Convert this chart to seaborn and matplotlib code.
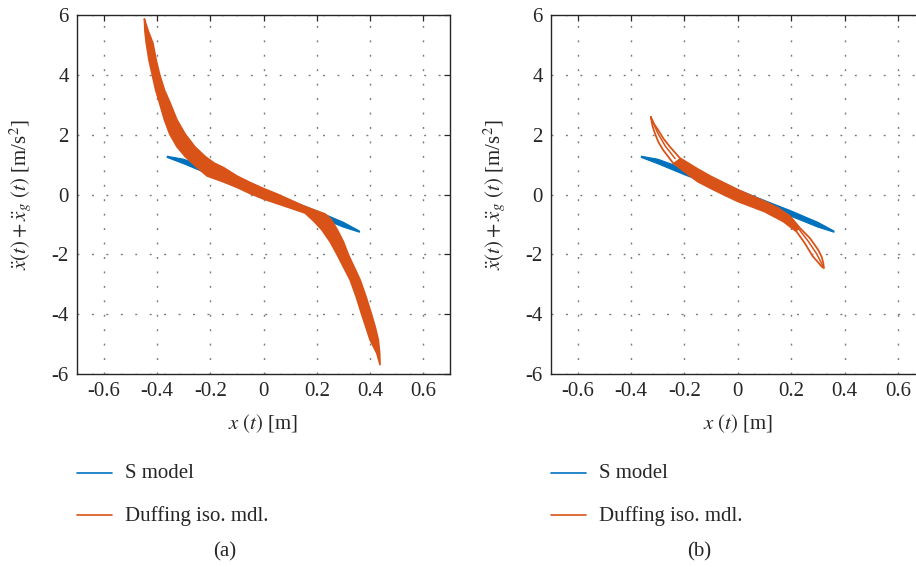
import numpy as np
import pandas as pd
import matplotlib
matplotlib.use("Agg")
import matplotlib.pyplot as plt
from matplotlib.lines import Line2D
import seaborn as sns

# ---------------- data ----------------
xticks = [-0.6, -0.4, -0.2, 0.0, 0.2, 0.4, 0.6]
xtick_labels = ["-0.6", "-0.4", "-0.2", "0", "0.2", "0.4", "0.6"]
yticks = [-6, -4, -2, 0, 2, 4, 6]
ytick_labels = ["-6", "-4", "-2", "0", "2", "4", "6"]

series_names = ["S model", "Duffing iso. mdl."]
panel_captions = ["(a)", "(b)"]

# S model loop (same in both panels): upper edge then lower edge
s_up_x = [-0.362, -0.30, -0.20, -0.10, 0.00, 0.10, 0.20, 0.30, 0.360]
s_up_y = [1.28, 1.18, 0.86, 0.52, 0.16, -0.20, -0.55, -0.93, -1.22]
s_lo_x = [0.360, 0.30, 0.20, 0.10, 0.00, -0.10, -0.20, -0.30, -0.362]
s_lo_y = [-1.26, -1.09, -0.73, -0.38, -0.04, 0.32, 0.66, 1.03, 1.24]

# Duffing model, panel (a): upper/right edge then lower/left edge of the band
da_up_x = [-0.447, -0.432, -0.415, -0.403, -0.390, -0.372, -0.350, -0.325, -0.294,
           -0.258, -0.219, -0.185, -0.150, -0.100, -0.050, 0.000, 0.050, 0.100,
           0.150, 0.200, 0.231, 0.255, 0.277, 0.300, 0.319, 0.340, 0.3625, 0.385,
           0.406, 0.420, 0.431, 0.436, 0.4375]
da_up_y = [5.86, 5.45, 5.06, 4.50, 4.02, 3.50, 3.05, 2.50, 2.02, 1.60, 1.27, 1.05,
           0.90, 0.62, 0.40, 0.20, 0.02, -0.18, -0.38, -0.55, -0.65, -0.85, -1.18,
           -1.58, -2.02, -2.42, -2.85, -3.42, -4.02, -4.45, -4.86, -5.30, -5.69]
da_lo_x = [0.4375, 0.425, 0.400, 0.385, 0.369, 0.348, 0.325, 0.300, 0.277, 0.250,
           0.219, 0.190, 0.156, 0.100, 0.050, 0.000, -0.050, -0.100, -0.150,
           -0.212, -0.255, -0.294, -0.325, -0.352, -0.372, -0.390, -0.405, -0.418,
           -0.430, -0.440, -0.445, -0.447]
da_lo_y = [-5.69, -5.30, -4.86, -4.45, -4.02, -3.42, -2.85, -2.42, -2.02, -1.58,
           -1.18, -0.90, -0.62, -0.45, -0.30, -0.15, 0.03, 0.24, 0.42, 0.62, 0.95,
           1.27, 1.60, 2.02, 2.50, 3.05, 3.50, 4.02, 4.50, 5.06, 5.45, 5.86]

# Duffing model, panel (b): outer loop
db_up_x = [-0.326, -0.314, -0.299, -0.278, -0.255, -0.2175, -0.150, -0.100, -0.050,
           0.000, 0.050, 0.100, 0.150, 0.195, 0.2325, 0.270, 0.301, 0.314, 0.320,
           0.3225]
db_up_y = [2.59, 2.36, 2.16, 1.86, 1.60, 1.22, 0.85, 0.60, 0.38, 0.16, -0.04,
           -0.23, -0.45, -0.72, -1.12, -1.46, -1.85, -2.08, -2.29, -2.46]
db_lo_x = [0.3225, 0.314, 0.299, 0.281, 0.251, 0.220, 0.170, 0.100, 0.050, 0.000,
           -0.050, -0.100, -0.150, -0.2425, -0.280, -0.298, -0.311, -0.320, -0.326]
db_lo_y = [-2.46, -2.41, -2.25, -2.07, -1.63, -1.24, -0.90, -0.57, -0.40, -0.23,
           -0.02, 0.20, 0.43, 1.05, 1.49, 1.76, 2.05, 2.30, 2.59]
# inner traces inside the two lenses of panel (b)
db_in_top_x = [-0.322, -0.300, -0.272, -0.235]
db_in_top_y = [2.50, 2.05, 1.62, 1.20]
db_in_bot_x = [0.318, 0.295, 0.265, 0.228]
db_in_bot_y = [-2.38, -1.98, -1.58, -1.15]

# ---------------- style ----------------
BLUE = "#0072BD"
ORANGE = "#D95319"
INK = "#262626"
FS = 15

sns.set_theme(style="white")
plt.rcParams.update({
    "font.family": ["Liberation Serif", "DejaVu Serif"],
    "mathtext.fontset": "stix",
    "axes.unicode_minus": False,
    "font.size": FS,
})

W, H = 916, 567
fig = plt.figure(figsize=(W / 100, H / 100), dpi=100)
fig.patch.set_facecolor("white")


def px_axes(left, right, top, bottom):
    return fig.add_axes([left / W, 1 - bottom / H, (right - left) / W, (bottom - top) / H])


def loop_df(ux, uy, lx, ly):
    return pd.DataFrame({"x": list(ux) + list(lx), "y": list(uy) + list(ly)})


def style_axes(ax):
    ax.set_xlim(-0.7, 0.7)
    ax.set_ylim(-6, 6)
    ax.set_xticks(xticks)
    ax.set_xticklabels(xtick_labels)
    ax.set_yticks(yticks)
    ax.set_yticklabels(ytick_labels)
    ax.grid(True, color="#7a7a7a", linestyle=(0, (1.4, 9.0)), linewidth=1.0)
    ax.set_axisbelow(True)
    ax.tick_params(direction="in", top=True, right=True, length=4, width=0.9,
                   color=INK, labelsize=FS, pad=6, labelcolor=INK)
    for sp in ax.spines.values():
        sp.set_color(INK)
        sp.set_linewidth(1.0)
    ax.set_xlabel(r"$x\ (t)$ [m]", fontsize=FS, color=INK)
    ax.set_ylabel(r"$\ddot{x}(t) + \ddot{x}_g\ (t)$ [m/s$^2$]", fontsize=FS, color=INK)
    ax.xaxis.label.set_va("center")
    ax.yaxis.label.set_va("center")
    ax.xaxis.set_label_coords(0.5, -0.137)
    ax.yaxis.set_label_coords(-0.150, 0.5)


def draw_s(ax):
    df = loop_df(s_up_x, s_up_y, s_lo_x, s_lo_y)
    ax.fill(df["x"], df["y"], color=BLUE, lw=0, zorder=2)
    sns.lineplot(data=df, x="x", y="y", sort=False, estimator=None, ax=ax,
                 color=BLUE, lw=0.8, zorder=2, solid_joinstyle="round")


axA = px_axes(77, 450, 15, 374)
axB = px_axes(551, 924.7, 15, 374)

# panel (a)
draw_s(axA)
dfa = loop_df(da_up_x, da_up_y, da_lo_x, da_lo_y)
axA.fill(dfa["x"], dfa["y"], color=ORANGE, lw=0, zorder=3)
sns.lineplot(data=dfa, x="x", y="y", sort=False, estimator=None, ax=axA,
             color=ORANGE, lw=1.2, zorder=3, solid_joinstyle="round")

# panel (b)
draw_s(axB)
dfb = loop_df(db_up_x, db_up_y, db_lo_x, db_lo_y)
up_m = [(-0.2175 <= x <= 0.2325) for x in db_up_x]
lo_m = [(-0.2425 <= x <= 0.220) for x in db_lo_x]
core_x = [x for x, m in zip(db_up_x, up_m) if m] + [x for x, m in zip(db_lo_x, lo_m) if m]
core_y = [y for y, m in zip(db_up_y, up_m) if m] + [y for y, m in zip(db_lo_y, lo_m) if m]
axB.fill(core_x, core_y, color=ORANGE, lw=0, zorder=3)
sns.lineplot(data=dfb, x="x", y="y", sort=False, estimator=None, ax=axB,
             color=ORANGE, lw=1.3, zorder=3, solid_joinstyle="round")
for xs, ys in [(db_in_top_x, db_in_top_y), (db_in_bot_x, db_in_bot_y)]:
    sns.lineplot(x=xs, y=ys, sort=False, estimator=None, ax=axB,
                 color=ORANGE, lw=1.1, zorder=3, solid_joinstyle="round")

for ax in (axA, axB):
    style_axes(ax)
    if ax.get_legend() is not None:
        ax.get_legend().remove()

# legends and captions below each panel
for x0, cap_x, cap in [(77, 225, panel_captions[0]), (551, 699, panel_captions[1])]:
    for yy, col, name in [(473, BLUE, series_names[0]), (515, ORANGE, series_names[1])]:
        fig.add_artist(Line2D([x0 / W, (x0 + 35) / W], [1 - yy / H, 1 - yy / H],
                              color=col, lw=1.2, transform=fig.transFigure))
        fig.text((x0 + 48) / W, 1 - (yy + 1) / H, name, fontsize=FS,
                 va="center", ha="left", color=INK)
    fig.text(cap_x / W, 1 - 552 / H, cap, fontsize=FS, ha="center", va="center",
             color=INK)

fig.savefig("out.png", dpi=100, facecolor="white")
